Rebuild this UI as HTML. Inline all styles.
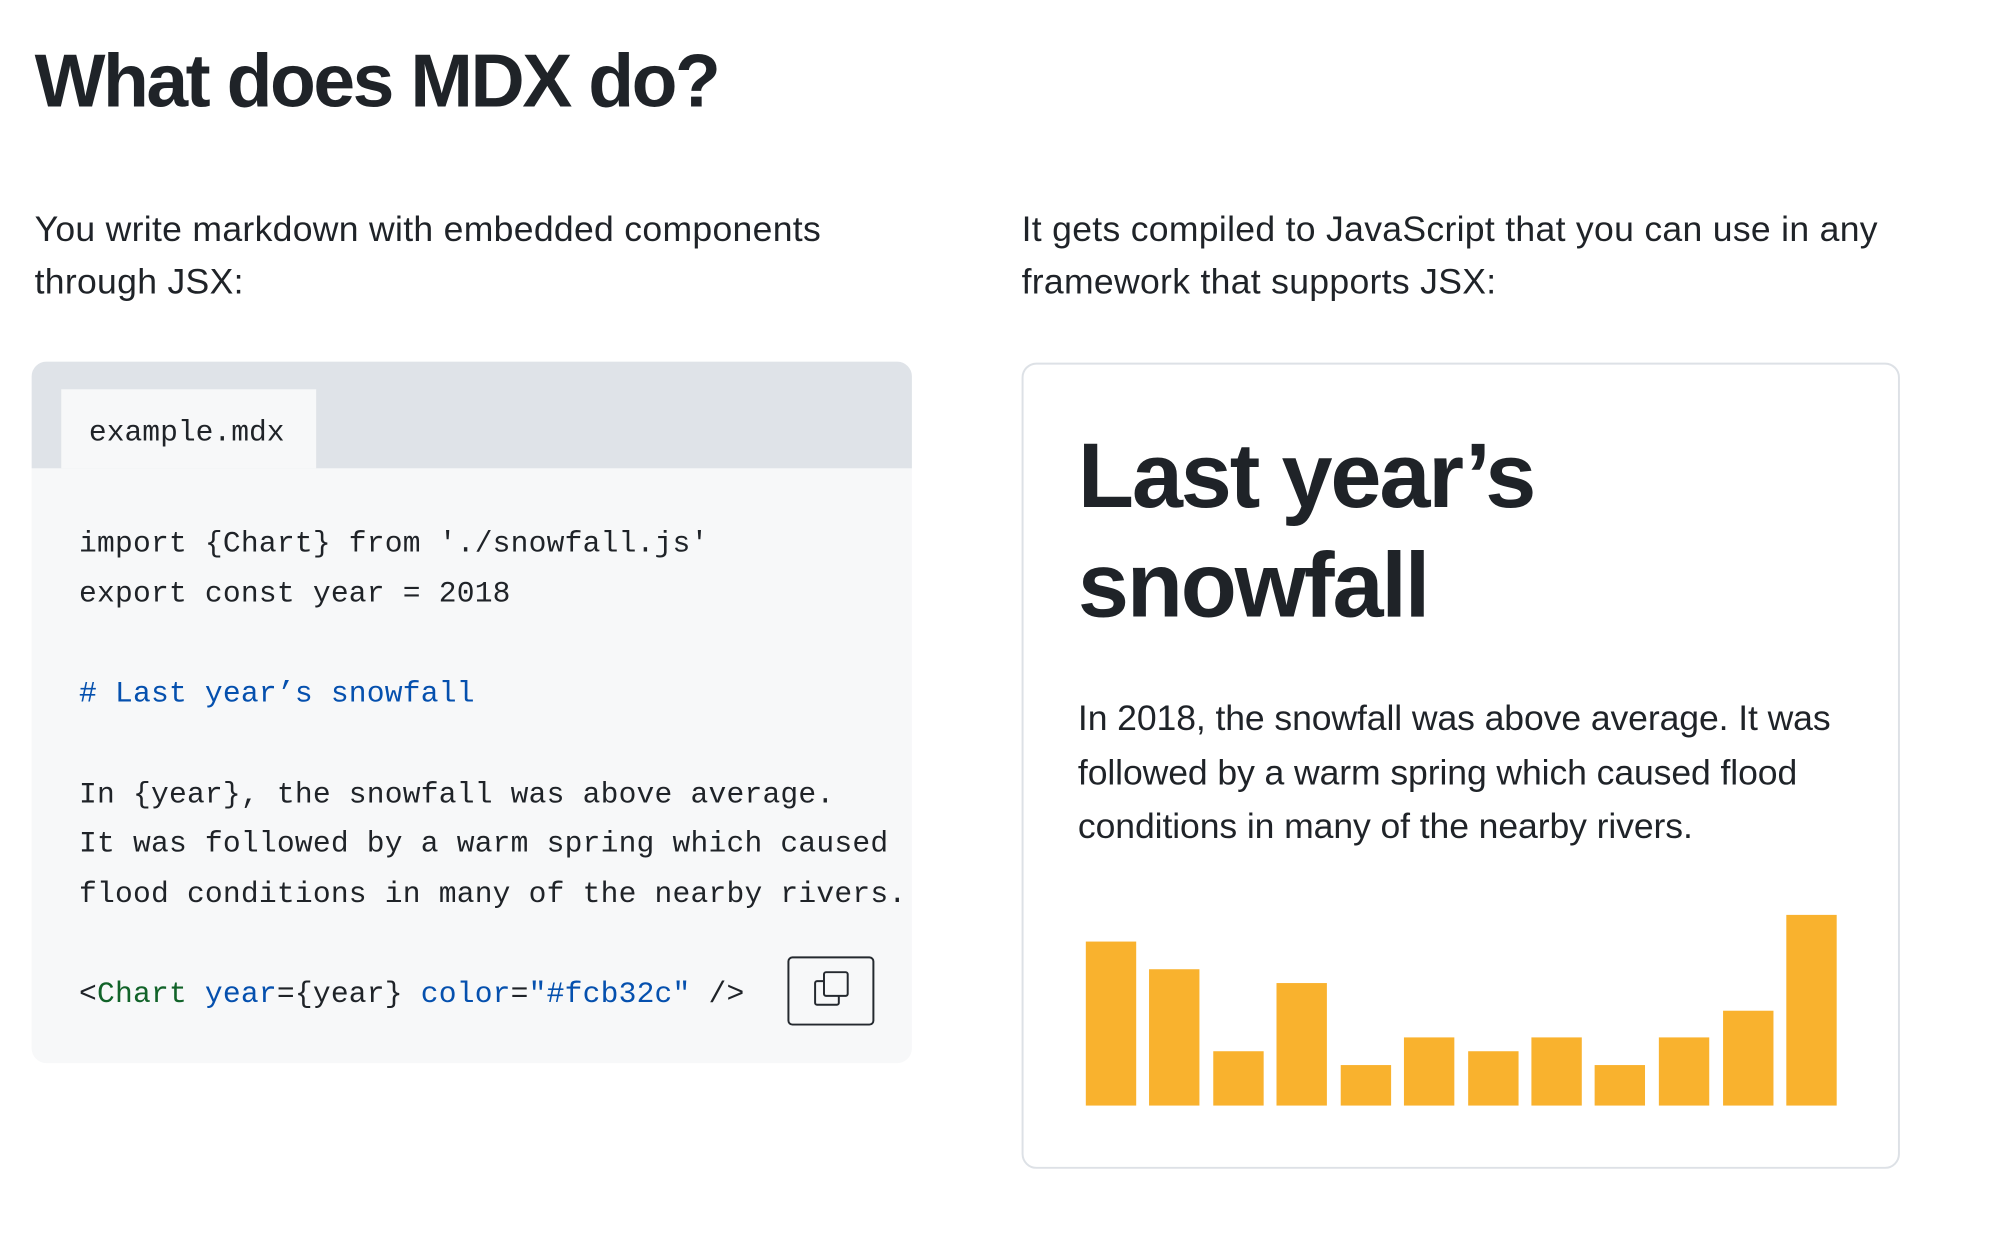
<!DOCTYPE html>
<html><head><meta charset="utf-8"><style>
body{margin:0;width:1990px;height:1226px;background:#fff;position:relative;overflow:hidden;font-family:"Liberation Sans",sans-serif;color:#1f2328}
#w{position:absolute;left:0;top:0;width:2020px;height:1250px;transform:scale(0.988);transform-origin:0 0}
.a{position:absolute;white-space:nowrap}
h1{position:absolute;left:35px;top:45px;margin:0;font-size:76px;line-height:76px;letter-spacing:-2.5px;font-weight:bold}
.p{font-size:36px;line-height:53px;letter-spacing:0.3px}
.code{left:32px;top:366px;width:891px;height:710px;background:#f7f8f9;border-radius:15px;overflow:hidden}
.hdr{position:absolute;left:0;top:0;width:100%;height:108px;background:#dfe3e8}
.tab{position:absolute;left:30px;top:28px;width:258px;height:80px;background:#f7f8f9}
.mono{font-family:"Liberation Mono",monospace;font-size:30px}
pre{position:absolute;left:48px;top:160px;margin:0;font-family:"Liberation Mono",monospace;font-size:30px;line-height:50.7px;letter-spacing:0.2px;color:#1f2328}
.b{color:#0550ae}.g{color:#116329}
.btn{position:absolute;left:765px;top:602px;width:88px;height:70px;border:2px solid #24292f;border-radius:5px;box-sizing:border-box}
.card{left:1034px;top:367px;width:889px;height:816px;border:2px solid #dde1e6;border-radius:15px;box-sizing:border-box}
.bar{position:absolute;background:#f9b22e;width:51px}
</style></head><body><div id="w">
<h1>What does MDX do?</h1>
<div class="a p" style="left:35px;top:205px">You write markdown with embedded components<br>through JSX:</div>
<div class="a p" style="left:1034px;top:205px">It gets compiled to JavaScript that you can use in any<br>framework that supports JSX:</div>
<div class="a code">
 <div class="hdr"></div>
 <div class="tab"><div class="a mono" style="left:28px;top:30px;line-height:30px">example.mdx</div></div>
<pre>import {Chart} from './snowfall.js'
export const year = 2018

<span class="b"># Last year’s snowfall</span>

In {year}, the snowfall was above average.
It was followed by a warm spring which caused
flood conditions in many of the nearby rivers.

&lt;<span class="g">Chart</span> <span class="b">year</span>={year} <span class="b">color</span>=<span class="b">"#fcb32c"</span> /&gt;</pre>
 <div class="btn">
  <div style="position:absolute;left:25px;top:22px;width:22px;height:22px;border:2.5px solid #24292f;border-radius:3px"></div>
  <div style="position:absolute;left:34px;top:13px;width:22px;height:22px;border:2.5px solid #24292f;border-radius:3px;background:#f7f8f9"></div>
 </div>
</div>
<div class="a card"></div>
<div class="a" style="left:1091px;top:426px;font-size:93px;line-height:111px;font-weight:bold;letter-spacing:-2.2px">Last year’s<br>snowfall</div>
<div class="a p" style="left:1091px;top:700px;line-height:54.5px;letter-spacing:-0.1px">In 2018, the snowfall was above average. It was<br>followed by a warm spring which caused flood<br>conditions in many of the nearby rivers.</div>
<div style="position:absolute;left:13px;top:5px">
<div class="bar" style="left:1086px;top:948px;height:166px"></div>
<div class="bar" style="left:1150px;top:976px;height:138px"></div>
<div class="bar" style="left:1215px;top:1059px;height:55px"></div>
<div class="bar" style="left:1279px;top:990px;height:124px"></div>
<div class="bar" style="left:1344px;top:1073px;height:41px"></div>
<div class="bar" style="left:1408px;top:1045px;height:69px"></div>
<div class="bar" style="left:1473px;top:1059px;height:55px"></div>
<div class="bar" style="left:1537px;top:1045px;height:69px"></div>
<div class="bar" style="left:1601px;top:1073px;height:41px"></div>
<div class="bar" style="left:1666px;top:1045px;height:69px"></div>
<div class="bar" style="left:1731px;top:1018px;height:96px"></div>
<div class="bar" style="left:1795px;top:921px;height:193px"></div>
</div>
</div></body></html>
